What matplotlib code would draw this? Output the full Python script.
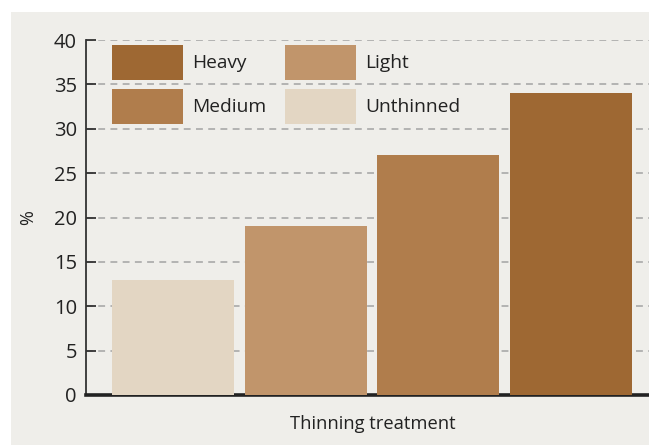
import matplotlib
matplotlib.use("Agg")
import matplotlib.pyplot as plt
from matplotlib.patches import Rectangle, Patch

categories = ["Unthinned", "Light", "Medium", "Heavy"]
values = [13, 19, 27, 34]
colors = ["#E3D6C3", "#C1956B", "#B07D4C", "#9E6833"]
yticks = [0, 5, 10, 15, 20, 25, 30, 35, 40]
legend_order = ["Heavy", "Medium", "Light", "Unthinned"]

plt.rcParams['font.family'] = ['Open Sans', 'DejaVu Sans']

W, H = 649, 445
fig = plt.figure(figsize=(W / 100, H / 100), dpi=100)
fig.patch.set_facecolor("white")
fig.patches.append(Rectangle((11 / W, 0), 1 - 11 / W, 1 - 12 / H,
                             transform=fig.transFigure, facecolor="#EFEEEA",
                             edgecolor="none", zorder=-10))

ax = fig.add_axes([86 / W, 50 / H, (W - 86) / W, 355 / H])
ax.set_facecolor("none")

x = list(range(len(categories)))
ax.bar(x, values, width=0.92, color=colors, zorder=3)

ax.set_xlim(-0.656, 3.587)
ax.set_ylim(0, 40)
ax.set_yticks(yticks)
ax.set_xticks([])
ax.yaxis.grid(True, color="#A3A3A3", linestyle=(0, (4.5, 3.5)), linewidth=1.1, zorder=0)
ax.tick_params(axis="y", direction="in", length=7, width=1.3, color="#333333",
               labelsize=14.5, labelcolor="#222222", pad=6.5)
for s in ["top", "right"]:
    ax.spines[s].set_visible(False)
ax.spines["left"].set_color("#333333")
ax.spines["left"].set_linewidth(1.3)
ax.spines["bottom"].set_color("#222222")
ax.spines["bottom"].set_linewidth(2.6)

ax.set_xlabel("Thinning treatment", fontsize=13.2, color="#222222")
ax.xaxis.set_label_coords(0.509, -0.055)
ax.set_ylabel("%", fontsize=13, color="#222222")
ax.yaxis.set_label_coords(-0.087, 0.5)

fs = 13.8
fpx = fs * 100 / 72
handles = [Patch(facecolor=colors[categories.index(n)], edgecolor="none") for n in legend_order]
leg = ax.legend(handles, legend_order, ncol=2, loc="upper left",
                bbox_to_anchor=(26 / 563, 350 / 355), frameon=False,
                fontsize=fs, borderpad=0, borderaxespad=0,
                handlelength=71 / fpx, handleheight=2.45,
                handletextpad=0.5, labelspacing=0.45, columnspacing=0.95)
for t in leg.get_texts():
    t.set_color("#222222")

fig.savefig("out.png", dpi=100)
